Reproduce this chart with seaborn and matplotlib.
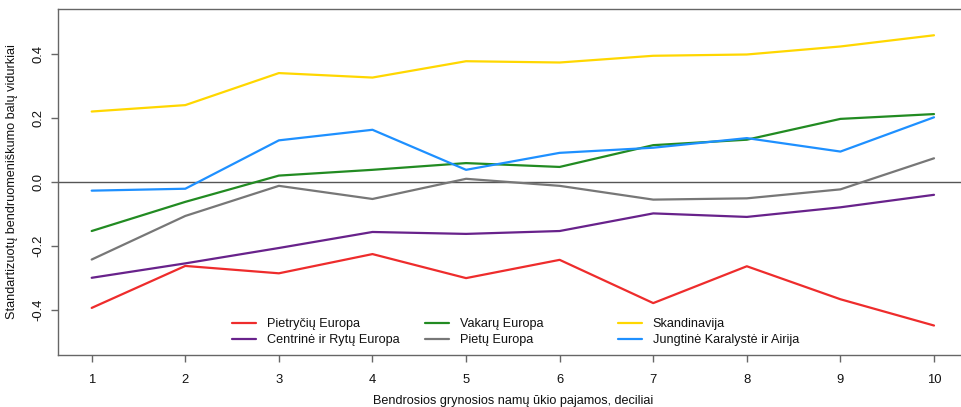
import matplotlib
matplotlib.use("Agg")
import matplotlib.pyplot as plt
import seaborn as sns
import pandas as pd
from matplotlib.lines import Line2D

deciles = [1, 2, 3, 4, 5, 6, 7, 8, 9, 10]
regions = ["Pietryčių Europa", "Centrinė ir Rytų Europa", "Vakarų Europa",
           "Pietų Europa", "Skandinavija", "Jungtinė Karalystė ir Airija"]
pietryciu = [-0.393, -0.262, -0.285, -0.225, -0.300, -0.243, -0.378, -0.263, -0.366, -0.448]
centrine = [-0.299, -0.254, -0.206, -0.156, -0.162, -0.153, -0.098, -0.109, -0.079, -0.040]
vakaru = [-0.153, -0.062, 0.020, 0.038, 0.059, 0.047, 0.115, 0.132, 0.197, 0.212]
pietu = [-0.242, -0.106, -0.012, -0.053, 0.010, -0.012, -0.055, -0.051, -0.023, 0.074]
skandinavija = [0.220, 0.240, 0.340, 0.326, 0.377, 0.373, 0.394, 0.398, 0.423, 0.458]
jungtine = [-0.027, -0.021, 0.130, 0.163, 0.038, 0.091, 0.107, 0.137, 0.095, 0.202]
colors = ["#EE2C2C", "#68228B", "#228B22", "#777777", "#FFD700", "#1E90FF"]
yticks = [-0.4, -0.2, 0.0, 0.2, 0.4]
yticklabels = ["-0.4", "-0.2", "0.0", "0.2", "0.4"]

series = [pietryciu, centrine, vakaru, pietu, skandinavija, jungtine]
rows = []
for name, vals in zip(regions, series):
    for d, v in zip(deciles, vals):
        rows.append({"decile": d, "value": v, "region": name})
df = pd.DataFrame(rows)

sns.set_style("white")
plt.rcParams["font.family"] = ["Liberation Sans", "DejaVu Sans"]

fs = 9.1
fig = plt.figure(figsize=(9.61, 4.07), dpi=100)
ax = fig.add_axes([58 / 961, 1 - 355 / 407, (967.7 - 58) / 961, (355 - 9) / 407])

ax.axhline(0, color="#555555", lw=1.0, zorder=1)
sns.lineplot(data=df, x="decile", y="value", hue="region", hue_order=regions,
             palette=colors, lw=1.6, ax=ax, legend=False, zorder=2)

ax.set_xlim(0.64, 10.36)
ax.set_ylim(-0.54, 0.54)
ax.set_xticks(deciles)
ax.set_xticklabels([str(d) for d in deciles])
ax.set_yticks(yticks)
ax.set_yticklabels(yticklabels, rotation=90, va="center")

for s in ax.spines.values():
    s.set_color("#666666")
    s.set_linewidth(1.0)
ax.tick_params(axis="both", which="major", direction="out", length=5,
               width=1.0, color="#666666", labelsize=9.4, labelcolor="#111111",
               bottom=True, left=True)
ax.tick_params(axis="x", pad=9)
ax.tick_params(axis="y", pad=5)

ax.set_xlabel("Bendrosios grynosios namų ūkio pajamos, deciliai", fontsize=fs,
              color="#111111", labelpad=6)
ax.set_ylabel("Standartizuotų bendruomeniškumo balų vidurkiai", fontsize=fs,
              color="#111111", labelpad=10)

# legend in three equal-width columns (as in the original)
col_x = [232, 425, 618]
for ci in range(3):
    handles = []
    labs = []
    for k in range(2):
        idx = ci * 2 + k
        handles.append(Line2D([0], [0], color=colors[idx], lw=1.6))
        labs.append(regions[idx])
    x0 = col_x[ci] / 961
    leg = fig.legend(handles, labs, loc="upper left",
                     bbox_to_anchor=(x0, 1 - 318 / 407), frameon=False,
                     fontsize=fs, handlelength=1.9, handletextpad=0.85,
                     labelspacing=0.35, borderpad=0, borderaxespad=0)
    for t in leg.get_texts():
        t.set_color("#111111")

fig.savefig("out.png", dpi=100)
